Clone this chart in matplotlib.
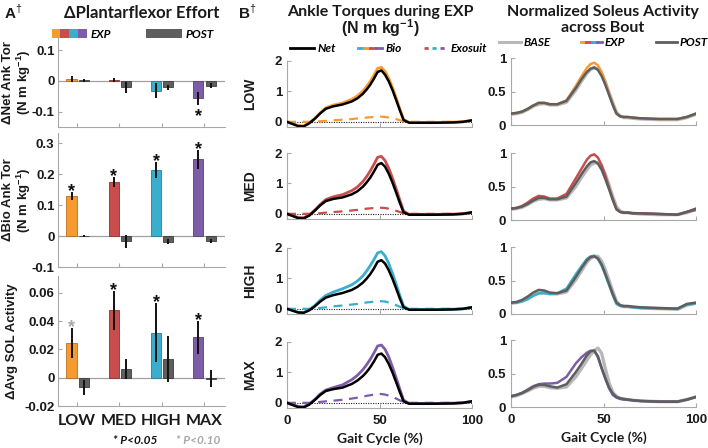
import numpy as np
import matplotlib
matplotlib.use('Agg')
import matplotlib.pyplot as plt
from matplotlib.patches import Patch
from matplotlib.lines import Line2D
from matplotlib.legend_handler import HandlerTuple

plt.rcParams['font.family'] = ['Liberation Sans', 'DejaVu Sans']
plt.rcParams['axes.unicode_minus'] = False
plt.rcParams['mathtext.fontset'] = 'custom'
plt.rcParams['mathtext.rm'] = 'Liberation Sans'
plt.rcParams['mathtext.bf'] = 'Liberation Sans:bold'
TFONT = ['Lato', 'DejaVu Sans']

# ---- panel A data ----
levels = ['LOW', 'MED', 'HIGH', 'MAX']
net_exp = [0.005, 0.003, -0.032, -0.057]
net_exp_err = [0.010, 0.008, 0.025, 0.021]
net_post = [0.002, -0.020, -0.020, -0.015]
net_post_err = [0.005, 0.018, 0.008, 0.007]
net_star = ['', '', '', 'k']

bio_exp = [0.128, 0.175, 0.214, 0.248]
bio_exp_err = [0.013, 0.015, 0.026, 0.030]
bio_post = [0.0, -0.017, -0.018, -0.015]
bio_post_err = [0.003, 0.020, 0.009, 0.007]
bio_star = ['k', 'k', 'k', 'k']

sol_exp = [0.0245, 0.0476, 0.0320, 0.0286]
sol_exp_err = [0.0106, 0.0135, 0.0206, 0.0117]
sol_post = [-0.0067, 0.0062, 0.0133, -0.0007]
sol_post_err = [0.0054, 0.0069, 0.0160, 0.0060]
sol_star = ['g', 'k', 'k', 'k']

# ---- panel B data (gait cycle %) ----
gait = [0, 3, 6, 9, 12, 15, 18, 21, 25, 30, 35, 38, 41, 43, 45, 47, 49, 51, 53, 55,
        57, 59, 61, 63, 66, 70, 80, 90, 95, 100]

net_low = [0.0, -0.07, -0.14, -0.15, -0.05, 0.10, 0.28, 0.43, 0.51, 0.57, 0.67, 0.77, 0.92, 1.06, 1.22,
           1.42, 1.64, 1.69, 1.55, 1.33, 1.05, 0.72, 0.38, 0.06, -0.03, -0.03, -0.03, -0.02, 0.0, 0.05]
bio_low = [0.0, -0.06, -0.12, -0.13, -0.04, 0.11, 0.30, 0.46, 0.55, 0.62, 0.74, 0.85, 1.01, 1.16, 1.33,
           1.54, 1.76, 1.79, 1.66, 1.43, 1.13, 0.79, 0.43, 0.08, -0.02, -0.02, -0.02, -0.01, 0.0, 0.05]
exo_low = [0, 0, 0, 0, 0, 0.01, 0.02, 0.03, 0.05, 0.07, 0.09, 0.11, 0.13, 0.14, 0.15,
           0.16, 0.17, 0.17, 0.16, 0.14, 0.12, 0.09, 0.05, 0.02, 0, 0, 0, 0, 0, 0]

net_med = [0.0, -0.07, -0.14, -0.15, -0.06, 0.10, 0.28, 0.42, 0.49, 0.54, 0.64, 0.74, 0.89, 1.03, 1.19,
           1.39, 1.61, 1.67, 1.55, 1.32, 1.03, 0.70, 0.36, 0.05, -0.03, -0.03, -0.03, -0.02, 0.0, 0.05]
bio_med = [0.0, -0.06, -0.12, -0.13, -0.04, 0.12, 0.31, 0.47, 0.56, 0.63, 0.76, 0.88, 1.06, 1.22, 1.41,
           1.63, 1.86, 1.89, 1.75, 1.50, 1.18, 0.82, 0.45, 0.09, -0.02, -0.02, -0.02, -0.01, 0.0, 0.05]
exo_med = [0, 0, 0, 0, 0, 0.01, 0.02, 0.04, 0.06, 0.08, 0.11, 0.13, 0.15, 0.17, 0.18,
           0.19, 0.20, 0.20, 0.19, 0.17, 0.14, 0.10, 0.06, 0.02, 0, 0, 0, 0, 0, 0]

net_high = [0.0, -0.06, -0.12, -0.13, -0.05, 0.08, 0.24, 0.37, 0.45, 0.52, 0.62, 0.72, 0.86, 0.99, 1.14,
            1.33, 1.55, 1.60, 1.49, 1.27, 0.99, 0.67, 0.34, 0.05, -0.03, -0.03, -0.03, -0.02, 0.0, 0.05]
bio_high = [0.0, -0.05, -0.11, -0.12, -0.03, 0.11, 0.29, 0.44, 0.55, 0.66, 0.79, 0.91, 1.08, 1.24, 1.42,
            1.62, 1.84, 1.88, 1.74, 1.49, 1.17, 0.81, 0.44, 0.09, -0.02, -0.02, -0.02, -0.01, 0.0, 0.05]
exo_high = [0, 0, 0, 0, 0, 0.01, 0.03, 0.05, 0.08, 0.11, 0.14, 0.16, 0.19, 0.21, 0.22,
            0.24, 0.25, 0.25, 0.24, 0.21, 0.17, 0.12, 0.07, 0.02, 0, 0, 0, 0, 0, 0]

net_max = [0.0, -0.07, -0.14, -0.15, -0.06, 0.09, 0.26, 0.39, 0.45, 0.50, 0.62, 0.73, 0.88, 1.01, 1.17,
           1.36, 1.58, 1.62, 1.50, 1.28, 1.00, 0.68, 0.35, 0.05, -0.03, -0.03, -0.03, -0.02, 0.0, 0.05]
bio_max = [0.0, -0.06, -0.12, -0.13, -0.04, 0.11, 0.29, 0.42, 0.50, 0.59, 0.76, 0.90, 1.09, 1.25, 1.43,
           1.64, 1.87, 1.90, 1.76, 1.51, 1.18, 0.82, 0.45, 0.09, -0.02, -0.02, -0.02, -0.01, 0.0, 0.05]
exo_max = [0, 0, 0, 0, 0, 0.01, 0.03, 0.05, 0.07, 0.10, 0.14, 0.17, 0.20, 0.23, 0.25,
           0.27, 0.28, 0.29, 0.27, 0.24, 0.20, 0.14, 0.08, 0.03, 0, 0, 0, 0, 0, 0]

sol_base_low = [0.16, 0.17, 0.19, 0.23, 0.28, 0.31, 0.32, 0.30, 0.30, 0.34, 0.52, 0.65, 0.77, 0.83, 0.85,
                0.84, 0.77, 0.64, 0.48, 0.33, 0.19, 0.13, 0.11, 0.11, 0.10, 0.09, 0.08, 0.08, 0.11, 0.16]
sol_exp_low = [0.17, 0.18, 0.20, 0.24, 0.29, 0.33, 0.33, 0.31, 0.31, 0.37, 0.58, 0.72, 0.85, 0.91, 0.93,
               0.89, 0.79, 0.64, 0.47, 0.31, 0.17, 0.13, 0.12, 0.12, 0.11, 0.10, 0.09, 0.09, 0.12, 0.17]
sol_post_low = [0.17, 0.18, 0.20, 0.24, 0.29, 0.33, 0.33, 0.31, 0.31, 0.36, 0.55, 0.68, 0.79, 0.84, 0.86,
                0.82, 0.73, 0.60, 0.45, 0.30, 0.17, 0.13, 0.12, 0.12, 0.11, 0.10, 0.09, 0.09, 0.12, 0.17]

sol_base_med = [0.16, 0.17, 0.19, 0.23, 0.28, 0.31, 0.32, 0.30, 0.30, 0.33, 0.50, 0.63, 0.75, 0.82, 0.85,
                0.86, 0.80, 0.68, 0.52, 0.35, 0.20, 0.13, 0.11, 0.11, 0.10, 0.09, 0.08, 0.08, 0.11, 0.16]
sol_exp_med = [0.17, 0.18, 0.21, 0.26, 0.32, 0.36, 0.35, 0.32, 0.32, 0.39, 0.62, 0.76, 0.90, 0.96, 0.98,
               0.93, 0.82, 0.66, 0.48, 0.31, 0.16, 0.12, 0.11, 0.11, 0.10, 0.10, 0.09, 0.08, 0.12, 0.15]
sol_post_med = [0.17, 0.18, 0.20, 0.24, 0.29, 0.33, 0.33, 0.31, 0.31, 0.35, 0.55, 0.68, 0.80, 0.86, 0.88,
                0.84, 0.75, 0.61, 0.46, 0.30, 0.16, 0.12, 0.11, 0.11, 0.10, 0.10, 0.09, 0.08, 0.12, 0.17]

sol_base_high = [0.16, 0.17, 0.19, 0.23, 0.28, 0.31, 0.32, 0.30, 0.30, 0.33, 0.51, 0.64, 0.77, 0.83, 0.86,
                 0.86, 0.79, 0.66, 0.50, 0.34, 0.19, 0.13, 0.11, 0.11, 0.10, 0.09, 0.08, 0.07, 0.13, 0.16]
sol_exp_high = [0.17, 0.17, 0.19, 0.22, 0.27, 0.31, 0.31, 0.30, 0.31, 0.38, 0.59, 0.71, 0.82, 0.86, 0.87,
                0.82, 0.72, 0.58, 0.43, 0.28, 0.15, 0.12, 0.11, 0.11, 0.10, 0.09, 0.08, 0.08, 0.14, 0.16]
sol_post_high = [0.17, 0.18, 0.21, 0.26, 0.32, 0.36, 0.35, 0.32, 0.31, 0.35, 0.55, 0.68, 0.80, 0.85, 0.86,
                 0.83, 0.74, 0.60, 0.45, 0.30, 0.17, 0.13, 0.12, 0.12, 0.11, 0.10, 0.09, 0.08, 0.15, 0.17]

sol_base_max = [0.15, 0.17, 0.20, 0.24, 0.28, 0.31, 0.31, 0.29, 0.28, 0.30, 0.45, 0.57, 0.70, 0.78, 0.84,
                0.88, 0.80, 0.57, 0.36, 0.22, 0.16, 0.13, 0.12, 0.11, 0.10, 0.09, 0.08, 0.08, 0.11, 0.15]
sol_exp_max = [0.16, 0.18, 0.21, 0.26, 0.31, 0.34, 0.35, 0.35, 0.36, 0.45, 0.65, 0.74, 0.81, 0.84, 0.84,
               0.74, 0.58, 0.42, 0.28, 0.18, 0.14, 0.12, 0.11, 0.11, 0.10, 0.09, 0.08, 0.08, 0.11, 0.15]
sol_post_max = [0.16, 0.18, 0.21, 0.25, 0.30, 0.33, 0.33, 0.31, 0.29, 0.34, 0.52, 0.64, 0.77, 0.83, 0.84,
                0.76, 0.58, 0.43, 0.29, 0.20, 0.15, 0.13, 0.12, 0.11, 0.10, 0.09, 0.08, 0.08, 0.11, 0.15]

# colours
exp_colors = ['#F79A32', '#C84E4E', '#3AAECD', '#7E5DA8']
exp_edges = ['#B86E1E', '#8E3232', '#23809A', '#56407A']
post_color = '#5E5E5E'
base_color = '#B8B8B8'
spine_col = '#A8A8A8'
txt_col = '#1A1A1A'

fig = plt.figure(figsize=(7.08, 4.48), dpi=100)
W, H = 708.0, 448.0


def px_axes(left, top, right, bottom):
    return fig.add_axes([left / W, 1 - bottom / H, (right - left) / W, (bottom - top) / H])


def style(ax):
    for s in ['top', 'right']:
        ax.spines[s].set_visible(False)
    for s in ['left', 'bottom']:
        ax.spines[s].set_color(spine_col)
        ax.spines[s].set_linewidth(0.8)
    ax.tick_params(direction='in', length=3, color=spine_col, labelcolor=txt_col,
                   labelsize=9.5, width=0.8)
    for lab in ax.get_yticklabels():
        lab.set_fontweight('bold')


# ---------------- panel A ----------------
xpos = np.arange(len(levels))
off_exp, off_post, bw = -0.13, 0.16, 0.24


def bar_panel(ax, exp, exp_err, post, post_err, stars, ylim, yticks, yticklabels):
    ax.axhline(0, color='#A0A0A0', lw=0.9, zorder=0)
    ax.bar(xpos + off_exp, exp, bw, color=exp_colors, edgecolor=exp_edges, lw=0.6, zorder=2)
    ax.bar(xpos + off_post, post, bw, color=post_color, edgecolor='#3E3E3E', lw=0.6, zorder=2)
    ax.errorbar(xpos + off_exp, exp, yerr=exp_err, fmt='none', ecolor='#111111',
                elinewidth=1.4, capsize=0, zorder=3)
    ax.errorbar(xpos + off_post, post, yerr=post_err, fmt='none', ecolor='#111111',
                elinewidth=1.4, capsize=0, zorder=3)
    for i, st in enumerate(stars):
        if not st:
            continue
        col = '#111111' if st == 'k' else '#A8A8A8'
        if exp[i] >= 0:
            ax.annotate('*', (xpos[i] + off_exp, exp[i] + exp_err[i]), xytext=(0, -3),
                        textcoords='offset points', ha='center', va='baseline',
                        fontsize=13, fontweight='bold', color=col)
        else:
            ax.annotate('*', (xpos[i] + off_exp, exp[i] - exp_err[i]), xytext=(0, -11.5),
                        textcoords='offset points', ha='center', va='baseline',
                        fontsize=13, fontweight='bold', color=col)
    ax.set_xlim(-0.45, 3.5)
    ax.set_ylim(*ylim)
    ax.set_yticks(yticks)
    ax.set_yticklabels(yticklabels)
    ax.set_xticks(xpos)
    style(ax)
    ax.tick_params(axis='y', pad=2.5)


ax1 = px_axes(58, 38, 225, 127)
bar_panel(ax1, net_exp, net_exp_err, net_post, net_post_err, net_star,
          (-0.15, 0.14), [-0.1, 0, 0.1], ['-0.1', '0', '0.1'])
ax1.set_xticklabels([])
ax1.set_ylabel('ΔNet Ank Tor\n(N m kg$^{\\mathbf{-1}}$)', fontsize=9.5, fontweight='bold',
               color=txt_col, linespacing=1.05)
ax1.yaxis.set_label_coords(-0.15, 0.5)

ax2 = px_axes(58, 133, 225, 267)
bar_panel(ax2, bio_exp, bio_exp_err, bio_post, bio_post_err, bio_star,
          (-0.1, 0.333), [-0.1, 0, 0.1, 0.2, 0.3], ['-0.1', '0', '0.1', '0.2', '0.3'])
ax2.set_xticklabels([])
ax2.set_ylabel('ΔBio Ank Tor\n(N m kg$^{\\mathbf{-1}}$)', fontsize=9.5, fontweight='bold',
               color=txt_col, linespacing=1.05)
ax2.yaxis.set_label_coords(-0.15, 0.5)

ax3 = px_axes(58, 276, 225, 406)
bar_panel(ax3, sol_exp, sol_exp_err, sol_post, sol_post_err, sol_star,
          (-0.02, 0.072), [-0.02, 0, 0.02, 0.04, 0.06], ['-0.02', '0', '0.02', '0.04', '0.06'])
ax3.set_xticklabels(levels, fontfamily=TFONT, fontweight='bold', fontsize=11.5)
ax3.tick_params(axis='x', pad=6)
ax3.set_ylabel('ΔAvg SOL Activity', fontsize=9.5, fontweight='bold', color=txt_col)
ax3.yaxis.set_label_coords(-0.24, 0.5)

ax1.legend(handles=[tuple(Patch(facecolor=c, edgecolor='none') for c in exp_colors),
                    Patch(facecolor=post_color, edgecolor='none')],
           labels=['EXP', 'POST'], handler_map={tuple: HandlerTuple(ndivide=None, pad=0)},
           ncol=2, loc='lower right', bbox_to_anchor=(0.96, 0.93), frameon=False,
           prop=dict(family=TFONT, weight='bold', style='italic', size=8.5),
           handlelength=3.0, handleheight=0.7, handletextpad=0.3, columnspacing=3.0,
           borderaxespad=0)

fig.text(142 / W, 1 - 13 / H, 'ΔPlantarflexor Effort', ha='center', va='center',
         fontsize=12, fontweight='bold', family=TFONT, color=txt_col)
fig.text(4 / W, 1 - 12 / H, 'A$^{\\dagger}$', ha='left', va='center', fontsize=11,
         fontweight='bold', color=txt_col)
fig.text(135 / W, 1 - 440 / H, '* P<0.05', ha='center', va='center', fontsize=8.5,
         fontweight='bold', style='italic', family=TFONT, color='#111111')
fig.text(198 / W, 1 - 440 / H, '* P<0.10', ha='center', va='center', fontsize=8.5,
         fontweight='bold', style='italic', family=TFONT, color='#A8A8A8')

# ---------------- panel B ----------------
torque_rows = [(net_low, bio_low, exo_low), (net_med, bio_med, exo_med),
               (net_high, bio_high, exo_high), (net_max, bio_max, exo_max)]
sol_rows = [(sol_base_low, sol_exp_low, sol_post_low), (sol_base_med, sol_exp_med, sol_post_med),
            (sol_base_high, sol_exp_high, sol_post_high), (sol_base_max, sol_exp_max, sol_post_max)]
t_tops = [61, 153, 248, 342]
s_tops = [58, 153, 247, 340]

t_axes, s_axes = [], []
for r in range(4):
    net, bio, exo = torque_rows[r]
    c = exp_colors[r]
    ax = px_axes(287, t_tops[r], 472, t_tops[r] + 66)
    ax.axhline(0, color='#222222', lw=0.8, ls=(0, (1, 1.2)), zorder=1)
    ax.plot(gait, exo, color=c, lw=1.6, ls=(0, (4, 3)), zorder=2)
    ax.plot(gait, bio, color=c, lw=2.0, zorder=3)
    ax.plot(gait, net, color='black', lw=1.8, zorder=4)
    ax.set_xlim(0, 100)
    ax.set_ylim(-0.17, 2)
    ax.set_yticks([0, 1, 2])
    ax.set_xticks([0, 50, 100])
    style(ax)
    ax.set_ylabel(levels[r], fontsize=10, fontweight='bold', color=txt_col)
    ax.yaxis.set_label_coords(-0.16, 0.5)
    t_axes.append(ax)

    base, expv, post = sol_rows[r]
    ax = px_axes(511, s_tops[r], 696, s_tops[r] + 67)
    ax.plot(gait, base, color=base_color, lw=2.4, zorder=2)
    ax.plot(gait, expv, color=c, lw=1.8, zorder=3)
    ax.plot(gait, post, color=post_color, lw=1.8, zorder=4)
    ax.set_xlim(0, 100)
    ax.set_ylim(0, 1)
    ax.set_yticks([0, 0.5, 1])
    ax.set_yticklabels(['0', '0.5', '1'])
    ax.set_xticks([0, 50, 100])
    style(ax)
    s_axes.append(ax)

for ax in t_axes[:3] + s_axes[:3]:
    ax.set_xticklabels([])
for ax in [t_axes[3], s_axes[3]]:
    ax.set_xticklabels(['0', '50', '100'], fontweight='bold')
    ax.tick_params(axis='x', pad=5)
    ax.set_xlabel('Gait Cycle (%)', fontsize=10, fontweight='bold', family=TFONT,
                  color=txt_col, labelpad=4)

hmap = {tuple: HandlerTuple(ndivide=None, pad=0)}
leg_prop = dict(family=TFONT, weight='bold', style='italic', size=8.5)
t_axes[0].legend(handles=[Line2D([], [], color='black', lw=2),
                          tuple(Line2D([], [], color=c, lw=2) for c in
                                [exp_colors[2], exp_colors[0], exp_colors[1], exp_colors[3]]),
                          tuple(Line2D([], [], color=c, lw=2, ls=(0, (1.5, 1.5))) for c in
                                [exp_colors[1], exp_colors[2], exp_colors[3]])],
                 labels=['Net', 'Bio', 'Exosuit'], handler_map=hmap, ncol=3,
                 loc='lower center', bbox_to_anchor=(0.55, 1.04), frameon=False, prop=leg_prop,
                 handlelength=2.0, handletextpad=0.3, columnspacing=1.9, borderaxespad=0)
s_axes[0].legend(handles=[Line2D([], [], color=base_color, lw=2.2),
                          tuple(Line2D([], [], color=c, lw=2) for c in exp_colors),
                          Line2D([], [], color=post_color, lw=2)],
                 labels=['BASE', 'EXP', 'POST'], handler_map=hmap, ncol=3,
                 loc='lower center', bbox_to_anchor=(0.5, 1.08), frameon=False, prop=leg_prop,
                 handlelength=1.8, handletextpad=0.2, columnspacing=2.6, borderaxespad=0)

fig.text(380 / W, 1 - 12 / H, 'Ankle Torques during EXP', ha='center', va='center',
         fontsize=11.5, fontweight='bold', family=TFONT, color=txt_col)
fig.text(380 / W, 1 - 28 / H, '(N m kg$^{\\mathbf{-1}}$)', ha='center', va='center',
         fontsize=11.5, fontweight='bold', color=txt_col)
fig.text(603 / W, 1 - 12 / H, 'Normalized Soleus Activity', ha='center', va='center',
         fontsize=11.5, fontweight='bold', family=TFONT, color=txt_col)
fig.text(603 / W, 1 - 28 / H, 'across Bout', ha='center', va='center',
         fontsize=11.5, fontweight='bold', family=TFONT, color=txt_col)
fig.text(238 / W, 1 - 12 / H, 'B$^{\\dagger}$', ha='left', va='center', fontsize=11,
         fontweight='bold', color=txt_col)

fig.savefig('out.png', dpi=100)
